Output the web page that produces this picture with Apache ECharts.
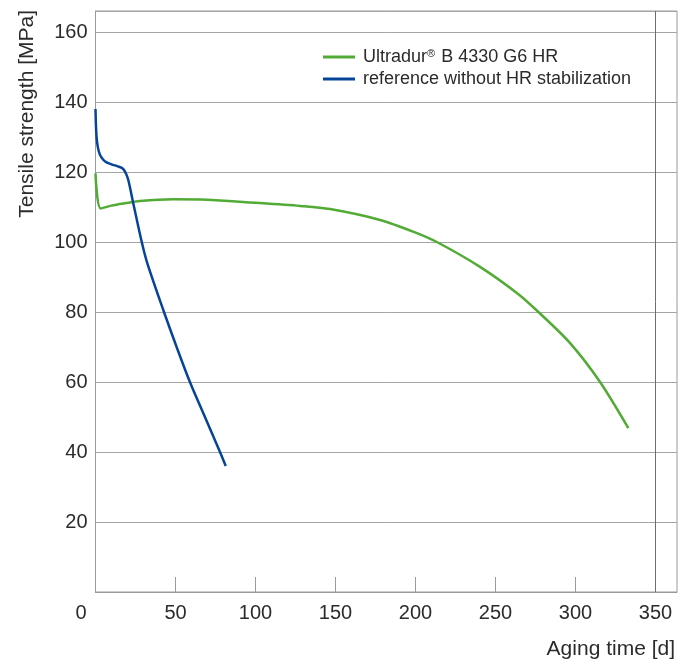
<!DOCTYPE html>
<html>
<head>
<meta charset="utf-8">
<script src="https://cdn.jsdelivr.net/npm/echarts@6/dist/echarts.min.js"></script>
<style>
html,body{margin:0;padding:0;background:#fff;}
#chart{width:693px;height:664px;}
</style>
</head>
<body>
<div id="chart"></div>
<script>
// Series names
const seriesNames = ['Ultradur® B 4330 G6 HR', 'reference without HR stabilization'];

// Ultradur B 4330 G6 HR (aging time [d], tensile strength [MPa])
const greenX = [0, 3.2, 10, 17.4, 27.8, 48.6, 69.5, 97, 128, 146.6, 177.8, 198.9, 213.3, 240.3, 264.3, 276.8, 296.6, 315.3, 333];
const greenY = [119.6, 109.6, 110.4, 111, 111.7, 112.2, 112.1, 111.3, 110.3, 109.4, 106.3, 102.9, 100, 92.9, 85.1, 80, 71.1, 60, 46.8];

// reference without HR stabilization
const blueX = [0, 0.4, 1, 2, 3.5, 6, 10, 14, 17, 18.8, 20.5, 23.6, 28.9, 32.4, 42.8, 50.7, 59, 68.4, 77.8, 81.4];
const blueY = [138, 132, 128.5, 126, 124.3, 123, 122.2, 121.6, 121, 119.8, 117.7, 111.1, 100, 93.9, 80, 70, 60, 50, 40, 36];

// Axis ticks
const xTicks = [0, 50, 100, 150, 200, 250, 300, 350];
const yTicks = [20, 40, 60, 80, 100, 120, 140, 160];
const xRefLine = [350];

const FONT = '"Liberation Sans", Arial, sans-serif';
const TEXT = '#2b2b2b';

const zip = (xs, ys) => xs.map((x, i) => [x, ys[i]]);

const chart = echarts.init(document.getElementById('chart'), null, {renderer: 'canvas'});
chart.setOption({
  animation: false,
  backgroundColor: '#fff',
  textStyle: {fontFamily: FONT, color: TEXT},
  grid: {
    left: 95.5, right: 16, top: 11, bottom: 72,
    show: true, borderColor: '#9a9a9a', borderWidth: 1, backgroundColor: 'transparent',
    containLabel: false
  },
  legend: {
    orient: 'vertical',
    left: 323, top: 48, padding: 0,
    itemWidth: 32, itemHeight: 14, itemGap: 4,
    icon: 'path://M0,6 L32,6 L32,9 L0,9 Z',
    formatter: name => name.replace('®', '{sup|®}'),
    textStyle: {
      fontFamily: FONT, fontSize: 18, color: TEXT, lineHeight: 18, padding: [0, 0, 0, 3],
      rich: {sup: {fontFamily: FONT, fontSize: 11, color: TEXT, verticalAlign: 'top', padding: [0, 1, 6, 0]}}
    },
    data: seriesNames
  },
  xAxis: {
    type: 'value',
    min: 0, max: 363.4, interval: 50,
    name: 'Aging time [d]',
    nameLocation: 'end', nameGap: 0,
    nameTextStyle: {fontFamily: FONT, fontSize: 21, color: TEXT, align: 'right', verticalAlign: 'top', padding: [47, 2, 0, 0]},
    axisLine: {show: true, lineStyle: {color: '#9a9a9a', width: 1}},
    axisTick: {show: true, inside: true, length: 15, customValues: xTicks, lineStyle: {color: '#9a9a9a', width: 1}},
    splitLine: {show: false},
    axisLabel: {
      show: true, margin: 11, fontFamily: FONT, fontSize: 20, color: TEXT,
      showMaxLabel: true, showMinLabel: true,
      customValues: xTicks,
      formatter: v => v === 0 ? '{z|0}' : String(v),
      rich: {z: {fontFamily: FONT, fontSize: 20, color: TEXT, padding: [0, 29, 0, 0]}}
    }
  },
  yAxis: {
    type: 'value',
    min: 0, max: 166, interval: 20,
    axisLine: {show: true, lineStyle: {color: '#9a9a9a', width: 1}},
    axisTick: {show: false},
    splitLine: {show: true, lineStyle: {color: '#a5a5a5', width: 1}},
    axisLabel: {
      show: true, margin: 8, fontFamily: FONT, fontSize: 20, color: TEXT,
      customValues: yTicks
    }
  },
  graphic: [{
    type: 'text',
    x: 27, y: 10,
    rotation: Math.PI / 2,
    style: {
      text: 'Tensile strength [MPa]',
      font: '21px ' + FONT,
      fill: TEXT,
      align: 'right',
      verticalAlign: 'middle'
    }
  }],
  series: [
    {
      name: seriesNames[0],
      type: 'line',
      data: zip(greenX, greenY),
      symbol: 'none',
      smooth: 0.3,
      lineStyle: {color: '#52ab35', width: 2.5},
      itemStyle: {color: '#52ab35'},
      markLine: {
        silent: true,
        symbol: 'none',
        label: {show: false},
        lineStyle: {color: '#6e6e6e', width: 1, type: 'solid'},
        data: xRefLine.map(v => ({xAxis: v}))
      },
      z: 3
    },
    {
      name: seriesNames[1],
      type: 'line',
      data: zip(blueX, blueY),
      symbol: 'none',
      smooth: 0.3,
      lineStyle: {color: '#064497', width: 2.5},
      itemStyle: {color: '#064497'},
      z: 4
    }
  ]
});
</script>
</body>
</html>
